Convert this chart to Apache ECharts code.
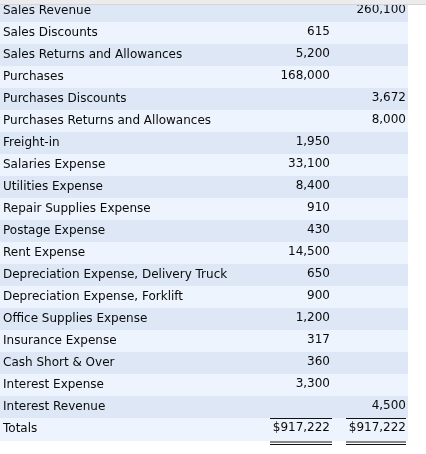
<!DOCTYPE html>
<html><head><meta charset="utf-8">
<script src="https://cdn.jsdelivr.net/npm/echarts@6/dist/echarts.min.js"></script>
<style>html,body{margin:0;padding:0;background:#fff;}#c{width:426px;height:454px;}</style>
</head><body><div id="c"></div>
<script>
const accounts = ["Sales Revenue","Sales Discounts","Sales Returns and Allowances","Purchases","Purchases Discounts","Purchases Returns and Allowances","Freight-in","Salaries Expense","Utilities Expense","Repair Supplies Expense","Postage Expense","Rent Expense","Depreciation Expense, Delivery Truck","Depreciation Expense, Forklift","Office Supplies Expense","Insurance Expense","Cash Short & Over","Interest Expense","Interest Revenue","Totals"];
const debits  = [null,615,5200,168000,null,null,1950,33100,8400,910,430,14500,650,900,1200,317,360,3300,null,917222];
const credits = [260100,null,null,null,3672,8000,null,null,null,null,null,null,null,null,null,null,null,null,4500,917222];

const FONT = '"DejaVu Sans", Verdana, sans-serif';
const DARK = '#dde7f6', LIGHT = '#eef4fd', TXT = '#0a0a0a';
const DEBIT_RIGHT = 330, CREDIT_RIGHT = 406;
const lastIdx = accounts.length - 1;

function fmt(v, isTotal){ if (v == null) return ''; return (isTotal ? '$' : '') + v.toLocaleString('en-US'); }

const rows = accounts.map((a, i) => [0, i, debits[i], credits[i]]);

const chart = echarts.init(document.getElementById('c'), null, {renderer:'canvas'});
chart.setOption({
  animation: false,
  grid: {left: 0, right: 18, top: 0, height: 440, containLabel: false},
  xAxis: {type: 'value', min: 0, max: 1, show: false},
  yAxis: {
    type: 'category', data: accounts, inverse: true,
    axisLine: {show: false}, axisTick: {show: false}, splitLine: {show: false},
    axisLabel: {inside: true, margin: 3, color: TXT, fontFamily: FONT, fontSize: 12, align: 'left', verticalAlign: 'middle', padding: [0,0,2,0]},
    z: 5
  },
  series: [
    {
      type: 'custom', z: -1, data: rows, silent: true,
      renderItem: function(params, api){
        const i = api.value(1);
        const cs = params.coordSys;
        const cy = api.coord([0, i])[1];
        const h = api.size([0, 1])[1];
        const extra = i === lastIdx ? 1 : 0;
        return {type: 'rect', shape: {x: cs.x, y: cy - h/2, width: cs.width, height: h + extra},
                style: {fill: i % 2 === 0 ? DARK : LIGHT}};
      }
    },
    {
      type: 'custom', z: 3, data: rows, silent: true,
      renderItem: function(params, api){
        const i = api.value(1);
        const cs = params.coordSys;
        const cy = api.coord([0, i])[1];
        const isTotal = i === lastIdx;
        const d = debits[i], c = credits[i];
        const kids = [];
        const ty = cy - 1;
        if (d != null) kids.push({type:'text', style:{text: fmt(d, isTotal), x: cs.x + DEBIT_RIGHT, y: ty, align:'right', verticalAlign:'middle', fill: TXT, font: '12px ' + FONT}});
        if (c != null) kids.push({type:'text', style:{text: fmt(c, isTotal), x: cs.x + CREDIT_RIGHT, y: ty, align:'right', verticalAlign:'middle', fill: TXT, font: '12px ' + FONT}});
        if (isTotal) {
          const top = cy - 11 + 0.5;
          const segs = [[270, 332], [346, 406]];
          segs.forEach(s => {
            kids.push({type:'line', shape:{x1: s[0], y1: top, x2: s[1], y2: top}, style:{stroke:'#111', lineWidth:1}});
            kids.push({type:'line', shape:{x1: s[0], y1: top + 23.5, x2: s[1], y2: top + 23.5}, style:{stroke:'#111', lineWidth:1}});
            kids.push({type:'line', shape:{x1: s[0], y1: top + 26, x2: s[1], y2: top + 26}, style:{stroke:'#111', lineWidth:1}});
          });
        }
        return {type:'group', children: kids};
      }
    }
  ],
  graphic: [
    {type:'rect', shape:{x:0, y:0, width:426, height:4}, style:{fill:'#ececec'}, z: 10},
    {type:'line', shape:{x1:0, y1:4.5, x2:426, y2:4.5}, style:{stroke:'#d6d6d6', lineWidth:1}, z: 10}
  ]
});
</script></body></html>
